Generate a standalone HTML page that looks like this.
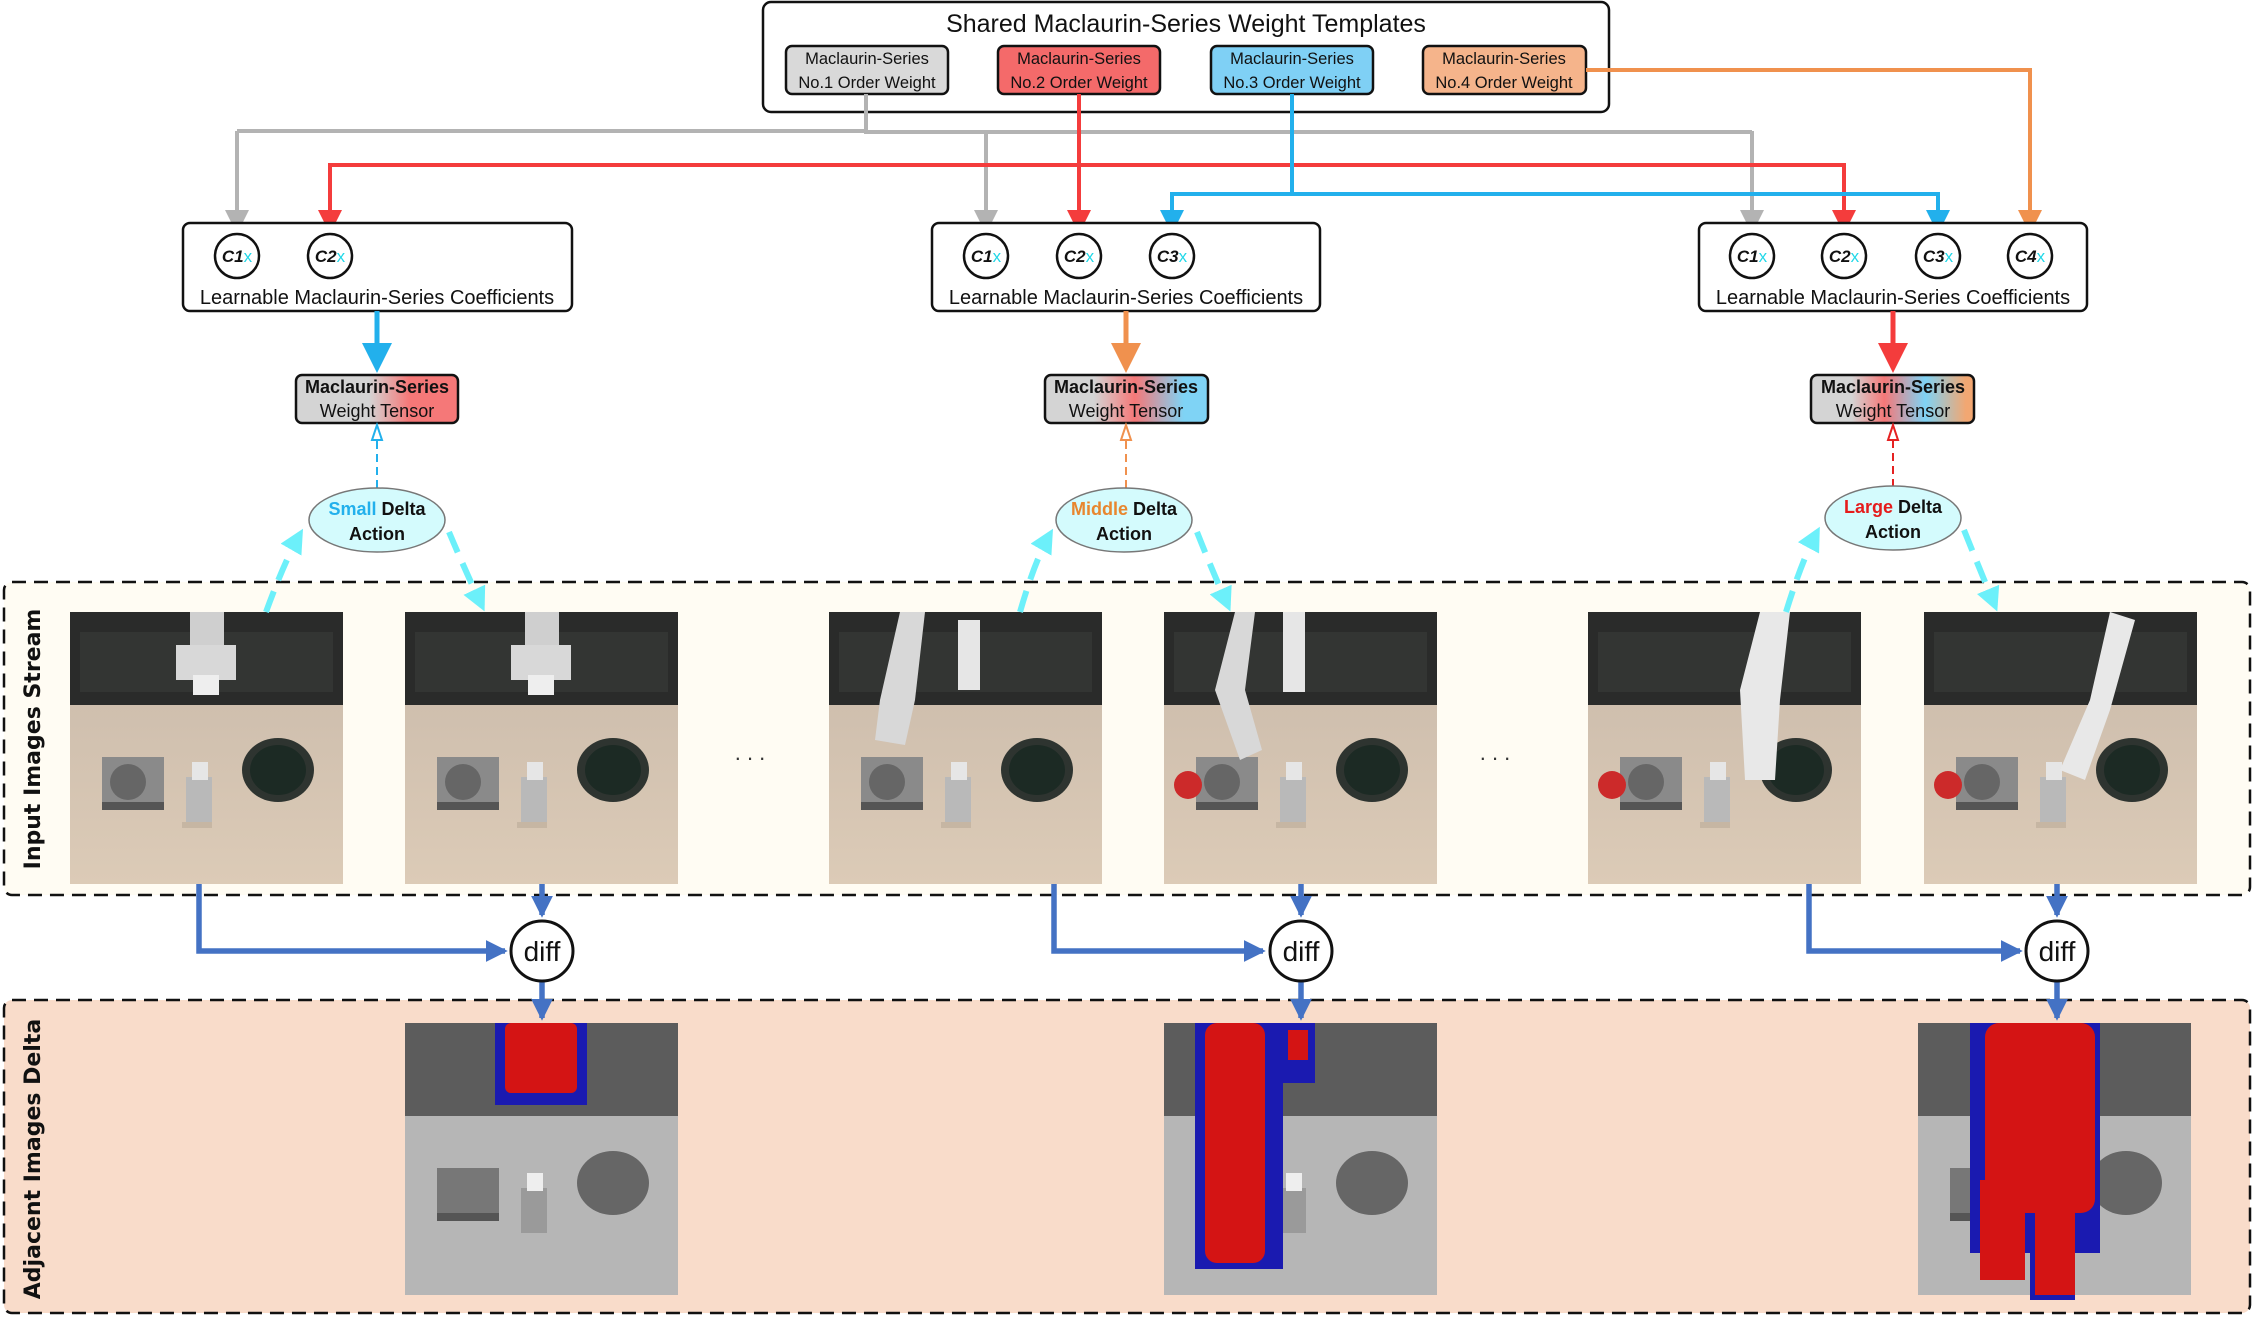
<!DOCTYPE html>
<html><head><meta charset="utf-8"><style>
html,body{margin:0;padding:0;background:#fff;}
svg{display:block;font-family:"Liberation Sans",sans-serif;}
.t{font-family:"Liberation Sans Narrow","Liberation Sans",sans-serif;}
</style></head><body>
<svg width="2254" height="1317" viewBox="0 0 2254 1317" xmlns="http://www.w3.org/2000/svg">
<defs>
<marker id="ag" markerWidth="6" markerHeight="6" refX="5" refY="3" orient="auto" markerUnits="strokeWidth"><path d="M0,0 L6,3 L0,6 z" fill="#b3b3b3"/></marker>
<marker id="ar" markerWidth="6" markerHeight="6" refX="5" refY="3" orient="auto" markerUnits="strokeWidth"><path d="M0,0 L6,3 L0,6 z" fill="#f43c3c"/></marker>
<marker id="ab" markerWidth="6" markerHeight="6" refX="5" refY="3" orient="auto" markerUnits="strokeWidth"><path d="M0,0 L6,3 L0,6 z" fill="#22b0ec"/></marker>
<marker id="ao" markerWidth="6" markerHeight="6" refX="5" refY="3" orient="auto" markerUnits="strokeWidth"><path d="M0,0 L6,3 L0,6 z" fill="#f0914e"/></marker>
<marker id="abl" markerWidth="4" markerHeight="4" refX="3.5" refY="2" orient="auto" markerUnits="strokeWidth"><path d="M0,0 L4,2 L0,4 z" fill="#4472c4"/></marker>
<marker id="ac" markerWidth="4" markerHeight="4" refX="3" refY="2" orient="auto" markerUnits="strokeWidth"><path d="M0,0 L4,2 L0,4 z" fill="#6cf0fa"/></marker>
<linearGradient id="g1" x1="0" x2="1"><stop offset="0.45" stop-color="#d4d4d4"/><stop offset="0.7" stop-color="#f57878"/></linearGradient>
<linearGradient id="g2" x1="0" x2="1"><stop offset="0.3" stop-color="#d4d4d4"/><stop offset="0.55" stop-color="#f57878"/><stop offset="0.85" stop-color="#7fd3f5"/></linearGradient>
<linearGradient id="g3" x1="0" x2="1"><stop offset="0.25" stop-color="#d4d4d4"/><stop offset="0.45" stop-color="#f57878"/><stop offset="0.7" stop-color="#7fd3f5"/><stop offset="0.95" stop-color="#f2a772"/></linearGradient>
<linearGradient id="wood" x1="0" x2="0" y1="0" y2="1"><stop offset="0" stop-color="#cfbfae"/><stop offset="1" stop-color="#dccbb7"/></linearGradient>
<g id="scene">
<rect x="0" y="0" width="273" height="93" fill="#2a2b2a"/>
<rect x="0" y="93" width="273" height="179" fill="url(#wood)"/>
<rect x="10" y="20" width="253" height="60" fill="#333533"/>
<rect x="32" y="145" width="62" height="52" fill="#8a8a8a"/><rect x="32" y="190" width="62" height="8" fill="#555"/>
<circle cx="58" cy="170" r="18" fill="#666"/>
<rect x="116" y="165" width="26" height="45" fill="#b9b9b9"/><rect x="122" y="150" width="16" height="18" fill="#e6e6e6"/>
<ellipse cx="208" cy="158" rx="36" ry="32" fill="#2e3430"/><ellipse cx="208" cy="158" rx="28" ry="25" fill="#1c2a24"/>
<rect x="112" y="210" width="30" height="6" fill="#c6b6a3"/>
</g>
<g id="dscene">
<rect x="0" y="0" width="273" height="93" fill="#5c5c5c"/>
<rect x="0" y="93" width="273" height="179" fill="#b6b6b6"/>
<rect x="32" y="145" width="62" height="52" fill="#777"/><rect x="32" y="190" width="62" height="8" fill="#555"/>
<rect x="116" y="165" width="26" height="45" fill="#9a9a9a"/><rect x="122" y="150" width="16" height="18" fill="#eee"/>
<ellipse cx="208" cy="160" rx="36" ry="32" fill="#666"/>
</g>
</defs>

<rect x="763" y="2" width="846" height="110" rx="8" fill="#fff" stroke="#111" stroke-width="2.5"/>
<text x="1186" y="32" font-size="25" text-anchor="middle" class="t" fill="#111">Shared Maclaurin-Series Weight Templates</text>
<g font-size="16.5" text-anchor="middle" class="t" fill="#111">
<rect x="786" y="46" width="162" height="48" rx="6" fill="#d9d9d9" stroke="#111" stroke-width="2.5"/>
<text x="867" y="64">Maclaurin-Series</text><text x="867" y="88">No.1 Order Weight</text>
<rect x="998" y="46" width="162" height="48" rx="6" fill="#f46a6a" stroke="#111" stroke-width="2.5"/>
<text x="1079" y="64">Maclaurin-Series</text><text x="1079" y="88">No.2 Order Weight</text>
<rect x="1211" y="46" width="162" height="48" rx="6" fill="#7fd0f5" stroke="#111" stroke-width="2.5"/>
<text x="1292" y="64">Maclaurin-Series</text><text x="1292" y="88">No.3 Order Weight</text>
<rect x="1423" y="46" width="163" height="48" rx="6" fill="#f5b48b" stroke="#111" stroke-width="2.5"/>
<text x="1504" y="64">Maclaurin-Series</text><text x="1504" y="88">No.4 Order Weight</text>
</g>

<g fill="none" stroke-width="4">
<path d="M866,94 V132 H1752" stroke="#b3b3b3"/>
<path d="M237,131 V230" stroke="#b3b3b3" marker-end="url(#ag)"/>
<path d="M237,131 H866" stroke="#b3b3b3"/>
<path d="M986,131 V230" stroke="#b3b3b3" marker-end="url(#ag)"/>
<path d="M1752,131 V230" stroke="#b3b3b3" marker-end="url(#ag)"/>
<path d="M1079,94 V230" stroke="#f43c3c" marker-end="url(#ar)"/>
<path d="M330,230 V165 H1844 V230" stroke="#f43c3c" marker-end="url(#ar)"/>
<path d="M330,165 V230" stroke="#f43c3c" marker-end="url(#ar)"/>
<path d="M1292,94 V194" stroke="#22b0ec"/>
<path d="M1172,230 V194 H1938 V230" stroke="#22b0ec" marker-end="url(#ab)"/>
<path d="M1172,194 V230" stroke="#22b0ec" marker-end="url(#ab)"/>
<path d="M1586,70 H2030 V230" stroke="#f0914e" marker-end="url(#ao)"/>
</g>

<g fill="#fff" stroke="#111" stroke-width="2.5">
<rect x="183" y="223" width="389" height="88" rx="7"/>
<rect x="932" y="223" width="388" height="88" rx="7"/>
<rect x="1699" y="223" width="388" height="88" rx="7"/>
</g>
<g font-size="20" text-anchor="middle" class="t" fill="#111">
<text x="377" y="304">Learnable Maclaurin-Series Coefficients</text>
<text x="1126" y="304">Learnable Maclaurin-Series Coefficients</text>
<text x="1893" y="304">Learnable Maclaurin-Series Coefficients</text>
</g>
<g fill="#fff" stroke="#111" stroke-width="2.5">
<ellipse cx="237" cy="256" rx="22" ry="22"/><ellipse cx="330" cy="256" rx="22" ry="22"/>
<ellipse cx="986" cy="256" rx="22" ry="22"/><ellipse cx="1079" cy="256" rx="22" ry="22"/><ellipse cx="1172" cy="256" rx="22" ry="22"/>
<ellipse cx="1752" cy="256" rx="22" ry="22"/><ellipse cx="1844" cy="256" rx="22" ry="22"/><ellipse cx="1938" cy="256" rx="22" ry="22"/><ellipse cx="2030" cy="256" rx="22" ry="22"/>
</g>
<g font-size="17" font-weight="bold" font-style="italic" text-anchor="middle" fill="#111">
<text x="237" y="262">C1<tspan fill="#22d8e8" font-style="normal" font-weight="normal">x</tspan></text>
<text x="330" y="262">C2<tspan fill="#22d8e8" font-style="normal" font-weight="normal">x</tspan></text>
<text x="986" y="262">C1<tspan fill="#22d8e8" font-style="normal" font-weight="normal">x</tspan></text>
<text x="1079" y="262">C2<tspan fill="#22d8e8" font-style="normal" font-weight="normal">x</tspan></text>
<text x="1172" y="262">C3<tspan fill="#22d8e8" font-style="normal" font-weight="normal">x</tspan></text>
<text x="1752" y="262">C1<tspan fill="#22d8e8" font-style="normal" font-weight="normal">x</tspan></text>
<text x="1844" y="262">C2<tspan fill="#22d8e8" font-style="normal" font-weight="normal">x</tspan></text>
<text x="1938" y="262">C3<tspan fill="#22d8e8" font-style="normal" font-weight="normal">x</tspan></text>
<text x="2030" y="262">C4<tspan fill="#22d8e8" font-style="normal" font-weight="normal">x</tspan></text>
</g>

<g stroke-width="5">
<line x1="377" y1="311" x2="377" y2="368" stroke="#22b0ec" marker-end="url(#ab)"/>
<line x1="1126" y1="311" x2="1126" y2="368" stroke="#f0914e" marker-end="url(#ao)"/>
<line x1="1893" y1="311" x2="1893" y2="368" stroke="#f43c3c" marker-end="url(#ar)"/>
</g>

<g stroke="#111" stroke-width="2.5">
<rect x="296" y="375" width="162" height="48" rx="6" fill="url(#g1)"/>
<rect x="1045" y="375" width="163" height="48" rx="6" fill="url(#g2)"/>
<rect x="1811" y="375" width="163" height="48" rx="6" fill="url(#g3)"/>
</g>
<g text-anchor="middle" class="t" fill="#111">
<text x="377" y="393" font-size="18" font-weight="bold">Maclaurin-Series</text><text x="377" y="417" font-size="18">Weight Tensor</text>
<text x="1126" y="393" font-size="18" font-weight="bold">Maclaurin-Series</text><text x="1126" y="417" font-size="18">Weight Tensor</text>
<text x="1893" y="393" font-size="18" font-weight="bold">Maclaurin-Series</text><text x="1893" y="417" font-size="18">Weight Tensor</text>
</g>

<g stroke-width="2" stroke-dasharray="8,5" fill="none">
<line x1="377" y1="488" x2="377" y2="440" stroke="#22b0ec"/>
<line x1="1126" y1="488" x2="1126" y2="440" stroke="#f0914e"/>
<line x1="1893" y1="487" x2="1893" y2="440" stroke="#e52222"/>
</g>
<g stroke-width="2" fill="#fff">
<path d="M377,425 L372,440 L382,440 z" stroke="#22b0ec"/>
<path d="M1126,425 L1121,440 L1131,440 z" stroke="#f0914e"/>
<path d="M1893,425 L1888,440 L1898,440 z" stroke="#e52222"/>
</g>

<g fill="#d4fbfd" stroke="#777" stroke-width="1.5">
<ellipse cx="377" cy="520" rx="68" ry="32"/>
<ellipse cx="1124" cy="520" rx="68" ry="32"/>
<ellipse cx="1893" cy="518" rx="68" ry="32"/>
</g>
<g font-size="18" font-weight="bold" text-anchor="middle" class="t" fill="#111">
<text x="377" y="515"><tspan fill="#22b0ec">Small</tspan> Delta</text><text x="377" y="540">Action</text>
<text x="1124" y="515"><tspan fill="#e8862e">Middle</tspan> Delta</text><text x="1124" y="540">Action</text>
<text x="1893" y="513"><tspan fill="#e51c1c">Large</tspan> Delta</text><text x="1893" y="538">Action</text>
</g>

<rect x="4" y="582" width="2246" height="313" rx="8" fill="#fffcf3" stroke="#111" stroke-width="2.5" stroke-dasharray="14,8"/>
<rect x="4" y="1000" width="2246" height="313" rx="8" fill="#f9dcca" stroke="#111" stroke-width="2.5" stroke-dasharray="14,8"/>
<text transform="translate(40,739) rotate(-90)" font-size="22" font-weight="bold" text-anchor="middle" fill="#111" font-family="DejaVu Sans, sans-serif">Input Images Stream</text>
<text transform="translate(40,1159) rotate(-90)" font-size="22" font-weight="bold" text-anchor="middle" fill="#111" font-family="DejaVu Sans, sans-serif">Adjacent Images Delta</text>

<use href="#scene" x="70" y="612"/>
<use href="#scene" x="405" y="612"/>
<use href="#scene" x="829" y="612"/>
<use href="#scene" x="1164" y="612"/>
<use href="#scene" x="1588" y="612"/>
<use href="#scene" x="1924" y="612"/>
<g fill="#d8d8d8">
<rect x="190" y="612" width="34" height="40" fill="#cfcfcf"/><rect x="176" y="645" width="60" height="35"/><rect x="193" y="675" width="26" height="20" fill="#eee"/>
<rect x="525" y="612" width="34" height="40" fill="#cfcfcf"/><rect x="511" y="645" width="60" height="35"/><rect x="528" y="675" width="26" height="20" fill="#eee"/>
<path d="M900,612 L880,700 L875,740 L905,745 L915,700 L925,612 z"/><rect x="958" y="620" width="22" height="70" fill="#e6e6e6"/>
<path d="M1235,612 L1215,690 L1240,760 L1262,750 L1245,690 L1255,612 z"/><rect x="1283" y="612" width="22" height="80" fill="#e6e6e6"/>
<path d="M1760,612 L1740,690 L1745,780 L1775,780 L1780,700 L1790,612 z" fill="#e8e8e8"/>
<path d="M2110,612 L2090,700 L2060,770 L2085,780 L2110,710 L2135,620 z" fill="#e8e8e8"/>
</g>
<g fill="#cc2a2a"><circle cx="1188" cy="785" r="14"/><circle cx="1612" cy="785" r="14"/><circle cx="1948" cy="785" r="14"/></g>
<text x="750" y="760" font-size="22" text-anchor="middle" fill="#333">. . .</text>
<text x="1495" y="760" font-size="22" text-anchor="middle" fill="#333">. . .</text>

<use href="#dscene" x="405" y="1023"/>
<use href="#dscene" x="1164" y="1023"/>
<use href="#dscene" x="1918" y="1023"/>
<g fill="#1a1ab0">
<rect x="495" y="1023" width="92" height="82"/>
<rect x="1195" y="1023" width="88" height="246"/><rect x="1283" y="1023" width="32" height="60"/>
<rect x="1970" y="1023" width="130" height="230"/><rect x="2030" y="1180" width="45" height="120"/>
</g>
<g fill="#d41414">
<rect x="505" y="1023" width="72" height="70" rx="6"/>
<rect x="1205" y="1023" width="60" height="240" rx="12"/><rect x="1288" y="1030" width="20" height="30"/>
<rect x="1985" y="1023" width="110" height="190" rx="14"/><rect x="1980" y="1180" width="45" height="100"/><rect x="2035" y="1190" width="40" height="105"/>
</g>

<g fill="none" stroke="#4472c4" stroke-width="5.5">
<path d="M199,884 V951 H505" marker-end="url(#abl)"/>
<path d="M542,884 V915" marker-end="url(#abl)"/>
<path d="M542,982 V1018" marker-end="url(#abl)"/>
<path d="M1054,884 V951 H1263" marker-end="url(#abl)"/>
<path d="M1301,884 V915" marker-end="url(#abl)"/>
<path d="M1301,982 V1018" marker-end="url(#abl)"/>
<path d="M1809,884 V951 H2020" marker-end="url(#abl)"/>
<path d="M2057,884 V915" marker-end="url(#abl)"/>
<path d="M2057,982 V1018" marker-end="url(#abl)"/>
</g>
<g fill="#fff" stroke="#111" stroke-width="3">
<ellipse cx="542" cy="951" rx="31" ry="30"/><ellipse cx="1301" cy="951" rx="31" ry="30"/><ellipse cx="2057" cy="951" rx="31" ry="30"/>
</g>
<g font-size="28" text-anchor="middle" class="t" fill="#111">
<text x="542" y="961">diff</text><text x="1301" y="961">diff</text><text x="2057" y="961">diff</text>
</g>

<g fill="none" stroke="#6cf0fa" stroke-width="6" stroke-dasharray="22,12">
<path d="M266,612 Q285,560 300,534" marker-end="url(#ac)"/>
<path d="M449,532 Q465,570 482,606" marker-end="url(#ac)"/>
<path d="M1020,612 Q1035,560 1050,534" marker-end="url(#ac)"/>
<path d="M1197,532 Q1212,570 1228,606" marker-end="url(#ac)"/>
<path d="M1786,612 Q1802,560 1817,532" marker-end="url(#ac)"/>
<path d="M1964,530 Q1980,570 1995,606" marker-end="url(#ac)"/>
</g>
</svg>
</body></html>
